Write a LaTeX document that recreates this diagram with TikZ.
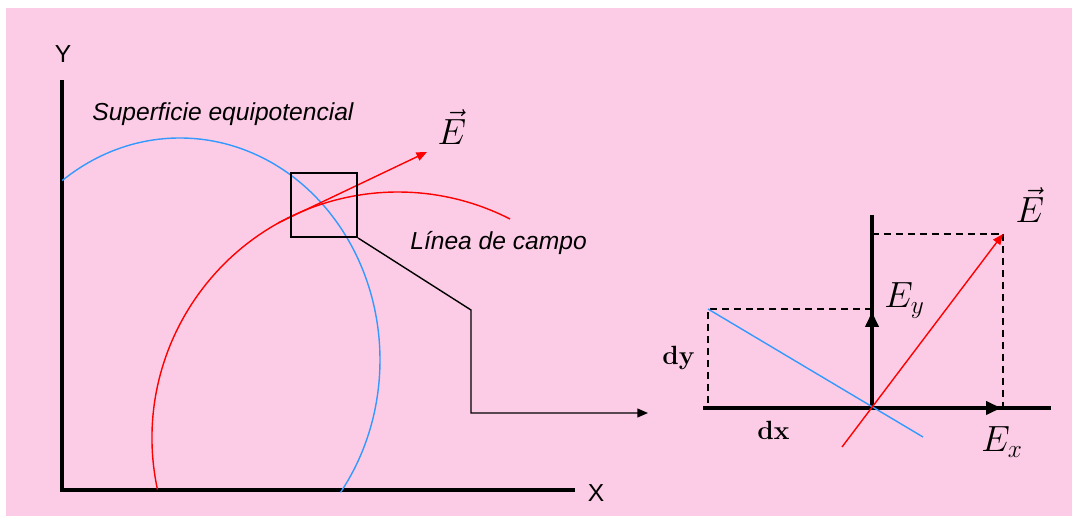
\documentclass[tikz,border=0pt]{standalone}
\usepackage{fontspec}
\newfontfamily\arialfont{Liberation Sans}
\usetikzlibrary{arrows.meta}
\definecolor{fondo}{RGB}{252,204,230}
\definecolor{azul}{RGB}{51,153,255}
\definecolor{rojo}{RGB}{255,0,0}
\begin{document}
\begin{tikzpicture}[x=0.02cm, y=0.02cm,
  eje/.style={line width=2.2pt},
  ejeb/.style={line width=1.8pt},
  guia/.style={dash pattern=on 4pt off 2.8pt, line width=0.8pt},
  curva/.style={line width=0.8pt},
  rotulo/.style={inner sep=0pt, font=\arialfont\fontsize{14}{16}\selectfont},
  vect/.style={inner sep=0pt, font=\fontsize{20.5}{24}\selectfont},
  difer/.style={inner sep=0pt, font=\fontsize{15}{17}\selectfont\bfseries}]
  \useasboundingbox (0,0) rectangle (1072,-516);
  \fill[fondo] (6,-8) rectangle (1072,-516);
  % ejes X, Y
  \coordinate (O) at (62,-490);
  \draw[eje] (62,-80) -- (O) -- (575,-490);
  \node[rotulo] (ylab) at (63,-54) {Y};
  \node[rotulo] (xlab) at (596,-493) {X};
  % superficie y linea de campo
  \draw[azul, curva] (180,-360) ++(126.1:200 and 222)
    arc[start angle=126.1, end angle=-36.6, x radius=200, y radius=222];
  \draw[rojo, curva] (398,-438) ++(192.1:246)
    arc[start angle=192.1, end angle=62.9, radius=246];
  \coordinate (tg) at (278,-223);
  \coordinate (Efin) at (427,-152);
  \draw[rojo, curva, -{Triangle[length=6pt,width=5pt]}] (tg) -- (Efin);
  \node[vect, anchor=base] (Eizq) at (452,-145) {$\vec{E}$};
  \node[rotulo, font=\arialfont\itshape\fontsize{14}{16}\selectfont, anchor=base west]
    (sup) at (92,-121) {Superficie equipotencial};
  \node[rotulo, font=\arialfont\itshape\fontsize{14}{16}\selectfont, anchor=base west]
    (lin) at (410,-250) {Línea de campo};
  % recuadro y ampliacion
  \node[draw, line width=1.1pt, minimum width=1.32cm, minimum height=1.28cm,
    inner sep=0pt] (zona) at (324,-205) {};
  \coordinate (zoomfin) at (648,-413);
  \draw[line width=0.8pt, -{Triangle[length=6pt,width=5pt]}]
    (zona.south east) -- (471,-310) |- (zoomfin);
  % detalle
  \coordinate (P) at (872,-408);
  \coordinate (Etip) at (1003,-234);
  \coordinate (dyp) at (708,-309);
  \draw[guia] (872,-234) -- (Etip) -- (1003,-408);
  \draw[guia] (872,-309) -- (dyp) -- (708,-408);
  \draw[ejeb] (703,-408) -- (1051,-408);
  \draw[ejeb] (872,-215) -- (P);
  \draw[ejeb, -{Triangle[length=8.5pt,width=7.5pt]}] (P) -- (1001,-408);
  \draw[ejeb, -{Triangle[length=8.5pt,width=7.5pt]}] (P) -- (872,-312);
  \draw[azul, curva] (dyp) -- (923,-437);
  \draw[rojo, curva, -{Triangle[length=6pt,width=5pt]}] (842,-447) -- (Etip);
  \node[vect, anchor=base] (Eder) at (1030,-223) {$\vec{E}$};
  \node[vect, anchor=base west] (Ey) at (884,-308) {$E_y$};
  \node[vect, anchor=base west] (Ex) at (981,-452) {$E_x$};
  \node[difer, anchor=base west] (dy) at (662,-365) {dy};
  \node[difer, anchor=base west] (dx) at (757,-440) {dx};
\end{tikzpicture}
\end{document}
